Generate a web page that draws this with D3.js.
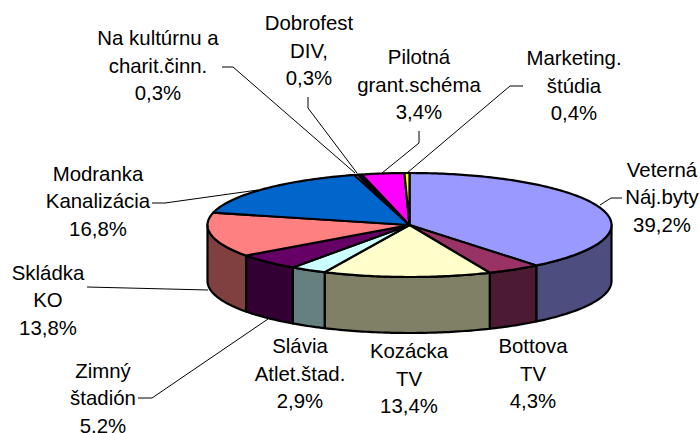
<!DOCTYPE html>
<html>
<head>
<meta charset="utf-8">
<script src="https://cdnjs.cloudflare.com/ajax/libs/d3/7.8.5/d3.min.js"></script>
<style>
  html, body { margin: 0; padding: 0; background: #fff; }
  text { font-family: "Liberation Sans", Arial, sans-serif; font-size: 20.4px; fill: #000; }
</style>
</head>
<body>
<div id="chart"></div>
<script>
// Excel style 3D pie, clockwise from 12 o'clock
const labels = [
  ["Veterná", "Náj.byty"], ["Bottova", "TV"], ["Kozácka", "TV"], ["Slávia", "Atlet.štad."],
  ["Zimný", "štadión"], ["Skládka", "KO"], ["Modranka", "Kanalizácia"], ["Na kultúrnu a", "charit.činn."],
  ["Dobrofest", "DIV,"], ["Pilotná", "grant.schéma"], ["Marketing.", "štúdia"]
];
const values = [39.2, 4.3, 13.4, 2.9, 5.2, 13.8, 16.8, 0.3, 0.3, 3.4, 0.4];
const topColors = ["#9999FF", "#993366", "#FFFFCC", "#CCFFFF", "#660066", "#FF8080", "#0066CC", "#CCCCFF", "#000080", "#FF00FF", "#FFFF00"];
const sideColors = ["#4D4D80", "#4D1A33", "#808066", "#668080", "#330033", "#804040"];

// label anchor: centre x and baseline of the first line
const labelPos = [[662, 176.5], [533, 353], [409, 358], [300, 353], [103, 377.5], [48, 279.5], [98, 180.5], [158, 45], [309, 30], [419, 64], [574, 65]];
const lineGap = 27.5;

// leader lines, one per label (Bottova, Kozácka and Slávia have none)
const leaders = [
  { i: 0, pts: [[600, 205], [611, 198], [622, 198]] },
  { i: 4, pts: [[138, 398], [152, 398], [268, 319]] },
  { i: 5, pts: [[87, 287], [208, 290]] },
  { i: 6, pts: [[152, 203], [165, 203], [258, 190]] },
  { i: 7, pts: [[222, 67], [233, 67], [355, 173]] },
  { i: 8, pts: [[308, 97], [308, 108], [357, 173]] },
  { i: 9, pts: [[419, 131], [419, 143], [382, 173]] },
  { i: 10, pts: [[523, 86], [510, 86], [407, 173]] }
];

const width = 700, height = 433;
const cx = 409.5, cy = 225, rx = 202, ry = 52, depth = 56;

const svg = d3.select("#chart").append("svg")
  .attr("width", width)
  .attr("height", height)
  .style("display", "block");

const pie = d3.pie().sort(null).value(d => d);
const slices = pie(values);

const line = d3.line();
const rim = (a, dy = 0) => [cx + rx * Math.sin(a), cy - ry * Math.cos(a) + dy];
const samples = (a0, a1) => {
  const n = Math.max(2, Math.ceil((a1 - a0) * 60));
  return d3.range(n + 1).map(i => a0 + (a1 - a0) * i / n);
};

const front0 = Math.PI / 2, front1 = Math.PI * 3 / 2;

// walls of the slices that face the viewer
slices.forEach((s, i) => {
  const a0 = Math.max(s.startAngle, front0), a1 = Math.min(s.endAngle, front1);
  if (a1 <= a0) return;
  const angles = samples(a0, a1);
  const pts = angles.map(a => rim(a)).concat(angles.slice().reverse().map(a => rim(a, depth)));
  svg.append("path")
    .attr("d", line(pts) + "Z")
    .attr("fill", sideColors[i])
    .attr("stroke", "#000")
    .attr("stroke-width", 2.2)
    .attr("stroke-linejoin", "round");
});

// top face
slices.forEach((s, i) => {
  const pts = [[cx, cy]].concat(samples(s.startAngle, s.endAngle).map(a => rim(a)));
  svg.append("path")
    .attr("d", line(pts) + "Z")
    .attr("fill", topColors[i])
    .attr("stroke", "#000")
    .attr("stroke-width", 2.2)
    .attr("stroke-linejoin", "round");
});

// leaders
svg.selectAll("path.leader")
  .data(leaders)
  .join("path")
  .attr("class", "leader")
  .attr("d", d => line(d.pts))
  .attr("fill", "none")
  .attr("stroke", "#000")
  .attr("stroke-width", 1);

// labels
labels.forEach((lines, i) => {
  const t = svg.append("text")
    .attr("text-anchor", "middle")
    .attr("x", labelPos[i][0])
    .attr("y", labelPos[i][1]);
  lines.concat(String(values[i]).replace(".", ",") + "%").forEach((txt, j) => {
    t.append("tspan")
      .attr("x", labelPos[i][0])
      .attr("dy", j ? lineGap : 0)
      .text(txt);
  });
});
</script>
</body>
</html>
